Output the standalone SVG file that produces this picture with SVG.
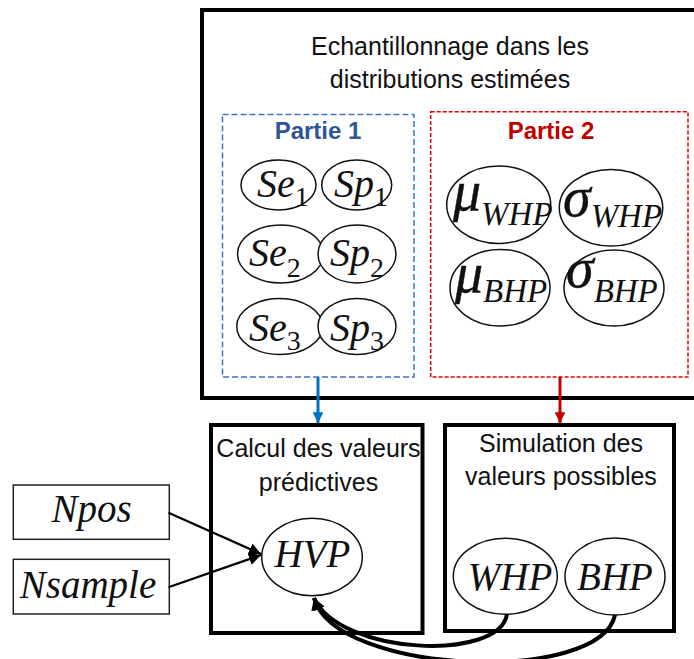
<svg xmlns="http://www.w3.org/2000/svg" width="694" height="659" viewBox="0 0 694 659">
<defs>
<style>
.box{fill:none;stroke:#000;stroke-width:4}
.thin{fill:#fff;stroke:#222;stroke-width:1.5}
.ell{fill:#fff;stroke:#111;stroke-width:1.5}
.sans{font-family:"Liberation Sans",Arial,sans-serif;fill:#111}
.math{font-family:"Liberation Serif","Times New Roman",serif;font-style:italic;fill:#111}
.up{font-style:normal}
</style>
<marker id="ahBlue" viewBox="0 0 10 10" refX="10" refY="5" markerWidth="3.6" markerHeight="3.6" orient="auto" markerUnits="strokeWidth"><path d="M0,0 L10,5 L0,10 z" fill="#0070C0"/></marker>
<marker id="ahRed" viewBox="0 0 10 10" refX="10" refY="5" markerWidth="3.6" markerHeight="3.6" orient="auto" markerUnits="strokeWidth"><path d="M0,0 L10,5 L0,10 z" fill="#C00000"/></marker>
<marker id="ahBlack" viewBox="0 0 10 10" refX="10" refY="5" markerWidth="5.5" markerHeight="5.5" orient="auto" markerUnits="strokeWidth"><path d="M0,0 L10,5 L0,10 z" fill="#000"/></marker>
<marker id="ahThick" viewBox="0 0 10 10" refX="10" refY="5" markerWidth="3" markerHeight="3" orient="auto" markerUnits="strokeWidth"><path d="M0,0 L10,5 L0,10 z" fill="#000"/></marker>
</defs>
<rect width="694" height="659" fill="#fff"/>

<g id="sampling">
<rect class="box" x="202" y="10" width="500" height="388"/>
<text class="sans" font-size="25" text-anchor="middle" x="450" y="55">Echantillonnage dans les</text>
<text class="sans" font-size="25" text-anchor="middle" x="450" y="88">distributions estimées</text>
</g>

<g id="partie1">
<rect x="222.5" y="114.5" width="191.5" height="262.5" fill="none" stroke="#4472C4" stroke-width="1.5" stroke-dasharray="6,3"/>
<text class="sans" font-size="24" font-weight="bold" style="fill:#2F5597" text-anchor="middle" x="318" y="139">Partie 1</text>
</g>
<g id="se1"><ellipse class="ell" cx="278.5" cy="185" rx="37.5" ry="25"/><text class="math" x="257" y="197" font-size="40">Se<tspan class="up" font-size="28" dy="9">1</tspan></text></g>
<g id="sp1"><ellipse class="ell" cx="356.7" cy="185" rx="35" ry="25"/><text class="math" x="334" y="197" font-size="40">Sp<tspan class="up" font-size="28" dy="9">1</tspan></text></g>
<g id="se2"><ellipse class="ell" cx="280.5" cy="254" rx="43" ry="29"/><text class="math" x="249" y="266" font-size="40">Se<tspan class="up" font-size="28" dy="11">2</tspan></text></g>
<g id="sp2"><ellipse class="ell" cx="357" cy="254" rx="39" ry="29"/><text class="math" x="330" y="266" font-size="40">Sp<tspan class="up" font-size="28" dy="11">2</tspan></text></g>
<g id="se3"><ellipse class="ell" cx="279.7" cy="326.5" rx="43" ry="28"/><text class="math" x="249" y="341" font-size="40">Se<tspan class="up" font-size="28" dy="9">3</tspan></text></g>
<g id="sp3"><ellipse class="ell" cx="357" cy="326.5" rx="39" ry="28"/><text class="math" x="330" y="341" font-size="40">Sp<tspan class="up" font-size="28" dy="9">3</tspan></text></g>

<g id="partie2">
<rect x="430.7" y="111.7" width="257.3" height="265.3" fill="none" stroke="#E00000" stroke-width="1.5" stroke-dasharray="4,2"/>
<text class="sans" font-size="24" font-weight="bold" style="fill:#C00000" text-anchor="middle" x="551" y="139">Partie 2</text>
</g>
<g id="muWHP"><ellipse class="ell" cx="498.7" cy="204.7" rx="52" ry="38.7"/><text class="math" x="453" y="210" font-size="56" stroke="#111" stroke-width="0.4">μ<tspan font-size="33" dy="15" stroke-width="0">WHP</tspan></text></g>
<g id="sigmaWHP"><ellipse class="ell" cx="611" cy="207.7" rx="51.7" ry="38.3"/><text class="math" x="563" y="216" font-size="56" stroke="#111" stroke-width="0.4">σ<tspan font-size="33" dy="11" stroke-width="0">WHP</tspan></text></g>
<g id="muBHP"><ellipse class="ell" cx="500" cy="287.7" rx="50" ry="38.3"/><text class="math" x="455" y="292" font-size="56" stroke="#111" stroke-width="0.4">μ<tspan font-size="33" dy="10" stroke-width="0">BHP</tspan></text></g>
<g id="sigmaBHP"><ellipse class="ell" cx="614" cy="288" rx="50" ry="38"/><text class="math" x="566" y="287" font-size="56" stroke="#111" stroke-width="0.4">σ<tspan font-size="33" dy="15" stroke-width="0">BHP</tspan></text></g>

<g id="calcul">
<rect class="box" x="211" y="425" width="211.5" height="208"/>
<text class="sans" font-size="25" text-anchor="middle" x="318.5" y="457">Calcul des valeurs</text>
<text class="sans" font-size="25" text-anchor="middle" x="318.5" y="490.5">prédictives</text>
</g>
<g id="simulation">
<rect class="box" x="445" y="425" width="229" height="206"/>
<text class="sans" font-size="25" text-anchor="middle" x="561" y="451.5">Simulation des</text>
<text class="sans" font-size="25" text-anchor="middle" x="561" y="485">valeurs possibles</text>
</g>
<g id="npos"><rect class="thin" x="13.3" y="485" width="156" height="54.3"/><text class="math" x="91.5" y="522" font-size="39" text-anchor="middle">Npos</text></g>
<g id="nsample"><rect class="thin" x="13.3" y="559.3" width="156" height="54.7"/><text class="math" x="88" y="598" font-size="39" text-anchor="middle">Nsample</text></g>
<g id="hvp"><ellipse class="ell" cx="312" cy="557" rx="50.3" ry="38.8"/><text class="math" x="312.5" y="567" font-size="39" text-anchor="middle">HVP</text></g>
<g id="whp"><ellipse class="ell" cx="505.3" cy="576.3" rx="52" ry="38"/><text class="math" x="510" y="590" font-size="39" text-anchor="middle">WHP</text></g>
<g id="bhp"><ellipse class="ell" cx="615" cy="576.5" rx="50" ry="38.5"/><text class="math" x="615" y="590" font-size="39" text-anchor="middle">BHP</text></g>

<g id="connectors" fill="none">
<line x1="318" y1="377" x2="318" y2="423" stroke="#0070C0" stroke-width="3" marker-end="url(#ahBlue)"/>
<line x1="560" y1="377" x2="560" y2="423" stroke="#C00000" stroke-width="3" marker-end="url(#ahRed)"/>
<line x1="168.5" y1="512.7" x2="261" y2="554" stroke="#000" stroke-width="2.2" marker-end="url(#ahBlack)"/>
<line x1="168.5" y1="587.3" x2="261" y2="555" stroke="#000" stroke-width="2.2" marker-end="url(#ahBlack)"/>
<path d="M507,614 C500,662 340,655 314,598" stroke="#000" stroke-width="4" marker-end="url(#ahThick)"/>
<path d="M615,615 C600,685 335,675 314,598" stroke="#000" stroke-width="4" marker-end="url(#ahThick)"/>
</g>
</svg>
